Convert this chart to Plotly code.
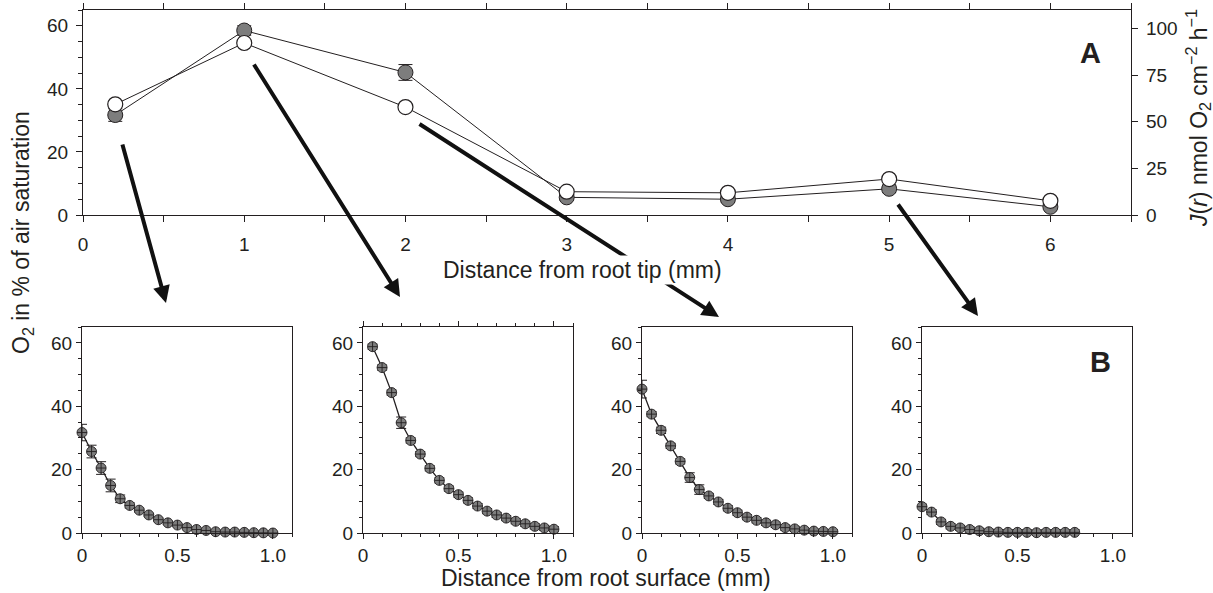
import plotly.graph_objects as go

# ---------------- data ----------------
# Panel A: along the root
dist_tip = [0.2, 1, 2, 3, 4, 5, 6]
o2_surface = [31.7, 58.5, 45.2, 5.6, 5.0, 8.3, 2.6]
o2_surface_err = [2.0, 1.5, 2.5, 1.0, 1.0, 1.2, 0.8]
flux_J = [59.4, 92.3, 57.9, 12.5, 11.9, 19.3, 7.6]

# Panel B: radial profiles (distance from root surface, mm)
prof1_x = [0.0, 0.05, 0.10, 0.15, 0.20, 0.25, 0.30, 0.35, 0.40, 0.45, 0.50,
           0.55, 0.60, 0.65, 0.70, 0.75, 0.80, 0.85, 0.90, 0.95, 1.00]
prof1_y = [31.7, 25.7, 20.5, 15.0, 10.8, 8.7, 7.2, 5.7, 4.2, 3.2, 2.5,
           1.7, 1.1, 0.8, 0.4, 0.3, 0.3, 0.2, 0.1, 0.05, 0.0]
prof1_err = [2.6, 2.0, 2.0, 2.0, 1.2, 0.8, 0.6, 0.5, 0.5, 0.5, 0.4,
             0.4, 0.3, 0.3, 0.3, 0.3, 0.3, 0.2, 0.2, 0.2, 0.2]

prof2_x = [0.05, 0.10, 0.15, 0.20, 0.25, 0.30, 0.35, 0.40, 0.45, 0.50,
           0.55, 0.60, 0.65, 0.70, 0.75, 0.80, 0.85, 0.90, 0.95, 1.00]
prof2_y = [58.8, 52.2, 44.3, 34.8, 29.2, 24.9, 20.4, 16.6, 14.0, 12.1,
           10.3, 8.5, 6.9, 5.7, 4.7, 3.7, 2.9, 2.1, 1.6, 1.2]
prof2_err = [0.8, 0.8, 0.8, 1.8, 0.8, 0.8, 0.8, 0.8, 0.8, 0.8,
             0.8, 0.8, 0.8, 0.8, 0.8, 0.8, 0.8, 0.8, 0.8, 0.8]

prof3_x = [0.0, 0.05, 0.10, 0.15, 0.20, 0.25, 0.30, 0.35, 0.40, 0.45, 0.50,
           0.55, 0.60, 0.65, 0.70, 0.75, 0.80, 0.85, 0.90, 0.95, 1.00]
prof3_y = [45.4, 37.5, 32.4, 27.5, 22.6, 17.5, 13.7, 11.7, 9.8, 7.8, 6.4,
           5.0, 4.0, 3.2, 2.6, 1.7, 1.3, 0.9, 0.6, 0.5, 0.4]
prof3_err = [2.8, 0.8, 1.0, 0.8, 0.8, 1.5, 1.5, 0.8, 0.8, 0.8, 0.8,
             0.8, 0.8, 0.8, 0.8, 0.8, 0.8, 0.6, 0.6, 0.6, 0.6]

prof4_x = [0.0, 0.05, 0.10, 0.15, 0.20, 0.25, 0.30, 0.35, 0.40, 0.45, 0.50,
           0.55, 0.60, 0.65, 0.70, 0.75, 0.80]
prof4_y = [8.3, 6.6, 3.5, 2.1, 1.6, 1.1, 0.7, 0.4, 0.3, 0.2, 0.2,
           0.2, 0.1, 0.2, 0.2, 0.2, 0.2]
prof4_err = [0.8] * 17

top_x_ticks = [0, 1, 2, 3, 4, 5, 6]
left_y_ticks = [0, 20, 40, 60]
right_y_ticks = [0, 25, 50, 75, 100]
bottom_x_ticks = [0, 0.5, 1.0]
bottom_x_labels = ["0", "0.5", "1.0"]

# ---------------- layout helpers ----------------
W, H = 1213, 593
FONT = "Liberation Sans, Arial, Helvetica, sans-serif"
INK = "#231f20"
GREY = "#7d7d7d"


def px(xp):
    return xp / W


def py(yp):
    return 1 - yp / H


fig = go.Figure()

# Panel A traces
fig.add_trace(go.Scatter(
    x=dist_tip, y=o2_surface, mode="lines+markers",
    line=dict(color=INK, width=1),
    marker=dict(size=15, color=GREY, line=dict(color=INK, width=1)),
    error_y=dict(type="data", array=o2_surface_err, color=INK, thickness=1, width=7),
    xaxis="x", yaxis="y", cliponaxis=False, showlegend=False))
fig.add_trace(go.Scatter(
    x=dist_tip, y=flux_J, mode="lines+markers",
    line=dict(color=INK, width=1),
    marker=dict(size=15, color="white", line=dict(color=INK, width=1.2)),
    xaxis="x", yaxis="y2", cliponaxis=False, showlegend=False))

# Panel B traces
profiles = [(prof1_x, prof1_y, prof1_err), (prof2_x, prof2_y, prof2_err),
            (prof3_x, prof3_y, prof3_err), (prof4_x, prof4_y, prof4_err)]
for i, (xs, ys, es) in enumerate(profiles):
    fig.add_trace(go.Scatter(
        x=xs, y=ys, mode="lines+markers",
        line=dict(color=INK, width=1.3),
        marker=dict(size=10, color=GREY, symbol="circle-cross",
                    line=dict(color=INK, width=0.9)),
        error_y=dict(type="data", array=es, color=INK, thickness=1, width=5),
        xaxis=f"x{i + 2}", yaxis=f"y{i + 3}", cliponaxis=False, showlegend=False))

tickfont = dict(family=FONT, size=19, color=INK)
common = dict(showline=True, linecolor=INK, linewidth=1.3, ticks="outside",
              tickcolor=INK, tickwidth=1, showgrid=False, zeroline=False,
              tickfont=tickfont, automargin=False)

layout = dict(
    width=W, height=H, margin=dict(l=0, r=0, t=0, b=0),
    paper_bgcolor="white", plot_bgcolor="white",
    font=dict(family=FONT, color=INK),
    xaxis=dict(domain=[px(83), px(1131)], range=[0, 6.5], tickvals=top_x_ticks,
               ticklen=6, minor=dict(dtick=0.5, tick0=0, ticklen=4, ticks="outside",
                                     tickcolor=INK),
               mirror="allticks", anchor="y", ticklabelstandoff=6, **common),
    yaxis=dict(domain=[py(215), py(10)], range=[0, 65], tickvals=left_y_ticks,
               ticklen=6, minor=dict(dtick=5, tick0=0, ticklen=4, ticks="outside",
                                     tickcolor=INK),
               anchor="x", ticklabelstandoff=4, **common),
    yaxis2=dict(overlaying="y", side="right", anchor="x", range=[0, 110],
                tickvals=right_y_ticks, ticklen=6, ticklabelstandoff=4, **common),
)

lefts = [82, 363, 642, 922]
for i, lx in enumerate(lefts):
    xa = f"xaxis{i + 2}"
    ya = f"yaxis{i + 3}"
    layout[xa] = dict(domain=[px(lx), px(lx + 210)], range=[0, 1.1],
                      tickvals=bottom_x_ticks, ticktext=bottom_x_labels, ticklen=5,
                      minor=dict(dtick=0.1, tick0=0, ticklen=3, ticks="outside",
                                 tickcolor=INK),
                      mirror="allticks" if i == 1 else True,
                      anchor=f"y{i + 3}", **common)
    layout[ya] = dict(domain=[py(533), py(327)], range=[0, 65], tickvals=left_y_ticks,
                      ticklen=5, minor=dict(dtick=5, tick0=0, ticklen=3, ticks="outside",
                                            tickcolor=INK),
                      mirror=True, anchor=f"x{i + 2}", **common)

fig.update_layout(**layout)

# Arrows from panel A to panel B (tail pixel, tip pixel)
arrows = [((122, 143), (166, 303)), ((253, 63), (400, 297)),
          ((418, 123), (719, 317)), ((897, 203), (978, 316))]
annotations = []
for (tx, ty), (hx, hy) in arrows:
    annotations.append(dict(
        x=px(hx), y=py(hy), xref="paper", yref="paper", text="",
        showarrow=True, ax=tx - hx, ay=ty - hy, axref="pixel", ayref="pixel",
        arrowhead=2, arrowsize=0.85, arrowwidth=4, arrowcolor="#111111"))

title_font = dict(family=FONT, size=23, color=INK)
annotations += [
    dict(x=px(582), y=py(270), xref="paper", yref="paper", showarrow=False,
         text="Distance from root tip (mm)", font=title_font, bgcolor="white",
         xanchor="center", yanchor="middle"),
    dict(x=px(606), y=py(578), xref="paper", yref="paper", showarrow=False,
         text="Distance from root surface (mm)", font=title_font,
         xanchor="center", yanchor="middle"),
    dict(x=px(22), y=py(233), xref="paper", yref="paper", showarrow=False,
         text="O<sub>2</sub> in % of air saturation", font=title_font, textangle=-90,
         xanchor="center", yanchor="middle"),
    dict(x=px(1198), y=py(118), xref="paper", yref="paper", showarrow=False,
         text="<i>J</i>(<i>r</i>) nmol O<sub>2</sub> cm<sup>\u22122</sup> h<sup>\u22121</sup>",
         font=title_font, textangle=-90, xanchor="center", yanchor="middle"),
    dict(x=px(1090), y=py(53), xref="paper", yref="paper", showarrow=False,
         text="<b>A</b>", font=dict(family=FONT, size=29, color=INK),
         xanchor="center", yanchor="middle"),
    dict(x=px(1100), y=py(362), xref="paper", yref="paper", showarrow=False,
         text="<b>B</b>", font=dict(family=FONT, size=29, color=INK),
         xanchor="center", yanchor="middle"),
]
fig.update_layout(annotations=annotations)

fig.write_html("out.html")
